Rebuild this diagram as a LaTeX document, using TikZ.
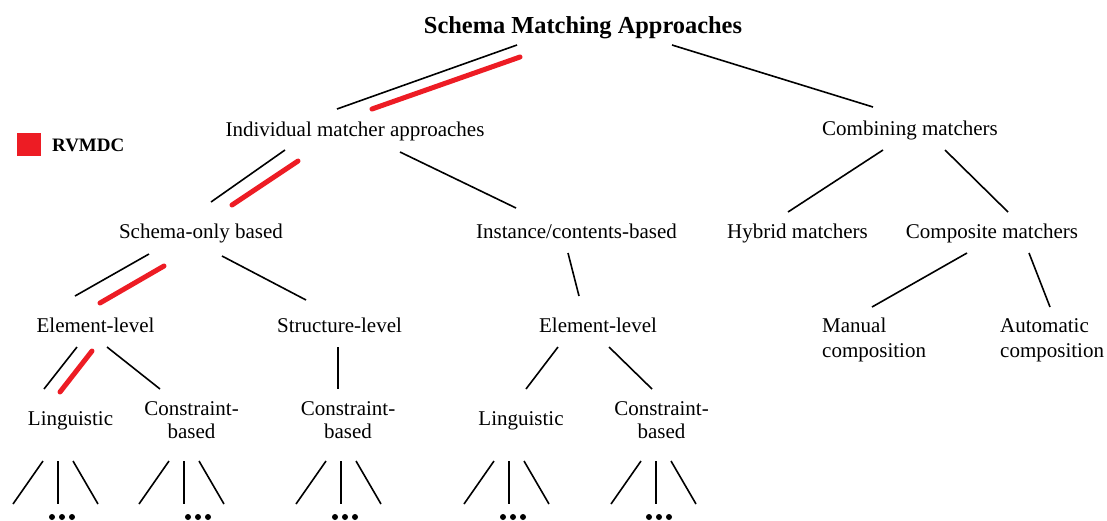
\documentclass[tikz,border=0pt]{standalone}
\usepackage{fontspec}
\setmainfont{Liberation Serif}
\usetikzlibrary{calc}
\definecolor{rvred}{RGB}{237,28,36}
\begin{document}
\begin{tikzpicture}[x=1pt,y=-1pt,
  lbl/.style={inner sep=0pt,anchor=base,font=\fontsize{21}{23}\selectfont,align=center},
  lblw/.style={lbl,anchor=base west,align=left},
  ttl/.style={inner sep=0pt,anchor=base,font=\fontsize{24.4}{28}\selectfont\bfseries},
  conn/.style={line width=1.6pt,black},
  hl/.style={line width=5pt,rvred,line cap=round},
  dotmark/.style={fill=black}]
\useasboundingbox (0,0) rectangle (1107,520);
% nodes (multi-line nodes: base = baseline of last line)
\node[ttl] (title) at (583,33) {Schema Matching Approaches};
\node[lbl] (ind) at (355,136) {Individual matcher approaches};
\node[lbl] (comb) at (910,135) {Combining matchers};
\node[lbl] (sch) at (201,238) {Schema-only based};
\node[lbl] (inst) at (576.5,238) {Instance/contents-based};
\node[lbl] (hyb) at (797.5,238) {Hybrid matchers};
\node[lbl] (comp) at (992,238) {Composite matchers};
\node[lbl] (el1) at (95.5,332) {Element-level};
\node[lbl] (str) at (339.5,332) {Structure-level};
\node[lbl] (el2) at (598,332) {Element-level};
\node[lblw] (man) at (822,357) {Manual\\[2pt]composition};
\node[lblw] (auto) at (1000,357) {Automatic\\[2pt]composition};
\node[lbl] (lin1) at (70.5,425) {Linguistic};
\node[lbl] (con1) at (191.5,438) {Constraint-\\based};
\node[lbl] (con2) at (348,438) {Constraint-\\based};
\node[lbl] (lin2) at (521,425) {Linguistic};
\node[lbl] (con3) at (661.5,438) {Constraint-\\based};
% legend
\node[fill=rvred,inner sep=0pt,minimum width=24pt,minimum height=23pt] (leg) at (29,144.5) {};
\node[inner sep=0pt,anchor=base west,font=\fontsize{19}{22}\selectfont\bfseries] (legtxt) at (52,151) {RVMDC};
% dots
\coordinate (d1) at (62,517);
\coordinate (d2) at (198,517);
\coordinate (d3) at (345,517);
\coordinate (d4) at (513,517);
\coordinate (d5) at (659,517);
\foreach \d in {d1,d2,d3,d4,d5}{
  \foreach \o in {-10,0,10}{
    \fill[dotmark] ($(\d)+(\o,0)$) circle[radius=3pt];
  }
}
% connectors
\draw[conn] ($(title.base)+(-66,12)$) -- ($(ind.base)+(-18,-27)$);
\draw[hl] ($(title.base)+(-63,24)$) -- ($(ind.base)+(17,-27)$);
\draw[conn] ($(title.base)+(89,12)$) -- ($(comb.base)+(-37,-28)$);
\draw[conn] ($(ind.base)+(-70,14)$) -- ($(sch.base)+(10,-36)$);
\draw[hl] ($(ind.base)+(-57,25)$) -- ($(sch.base)+(31,-33)$);
\draw[conn] ($(ind.base)+(45,16)$) -- ($(inst.base)+(-60.5,-30)$);
\draw[conn] ($(sch.base)+(-52,16)$) -- ($(el1.base)+(-20.5,-36)$);
\draw[hl] ($(sch.base)+(-37,28)$) -- ($(el1.base)+(4.5,-29)$);
\draw[conn] ($(sch.base)+(21,18)$) -- ($(str.base)+(-33.5,-32)$);
\draw[conn] ($(inst.base)+(-8.5,15)$) -- ($(el2.base)+(-19,-36)$);
\draw[conn] ($(el1.base)+(-18.5,15)$) -- ($(lin1.base)+(-26.5,-36)$);
\draw[hl] ($(el1.base)+(-3.5,19)$) -- ($(lin1.base)+(-10.5,-33)$);
\draw[conn] ($(el1.base)+(11.5,15)$) -- ($(con1.base)+(-31.5,-49)$);
\draw[conn] ($(str.base)+(-1.5,15)$) -- ($(con2.base)+(-10,-49)$);
\draw[conn] ($(el2.base)+(-40,15)$) -- ($(lin2.base)+(5,-36)$);
\draw[conn] ($(el2.base)+(11,15)$) -- ($(con3.base)+(-9.5,-49)$);
\draw[conn] ($(comb.base)+(-27,15)$) -- ($(hyb.base)+(-9.5,-26)$);
\draw[conn] ($(comb.base)+(35,15)$) -- ($(comp.base)+(16,-26)$);
\draw[conn] ($(comp.base)+(-25,15)$) -- ($(man.base west)+(50,-50)$);
\draw[conn] ($(comp.base)+(37,15)$) -- ($(auto.base west)+(50,-50)$);
% fans to dots
\foreach \p/\d/\a/\dy/\b in {lin1/d1/-12.5/36/-4, con1/d2/-7.5/23/-14, con2/d3/-7/23/-4, lin2/d4/-12/36/-4, con3/d5/-5.5/23/-3}{
  \draw[conn] ($(\p.base)+(\a-15,\dy)$) -- ($(\d)+(\b-45,-13)$);
  \draw[conn] ($(\p.base)+(\a,\dy)$) -- ($(\d)+(\b,-13)$);
  \draw[conn] ($(\p.base)+(\a+15,\dy)$) -- ($(\d)+(\b+40,-13)$);
}
\end{tikzpicture}
\end{document}
